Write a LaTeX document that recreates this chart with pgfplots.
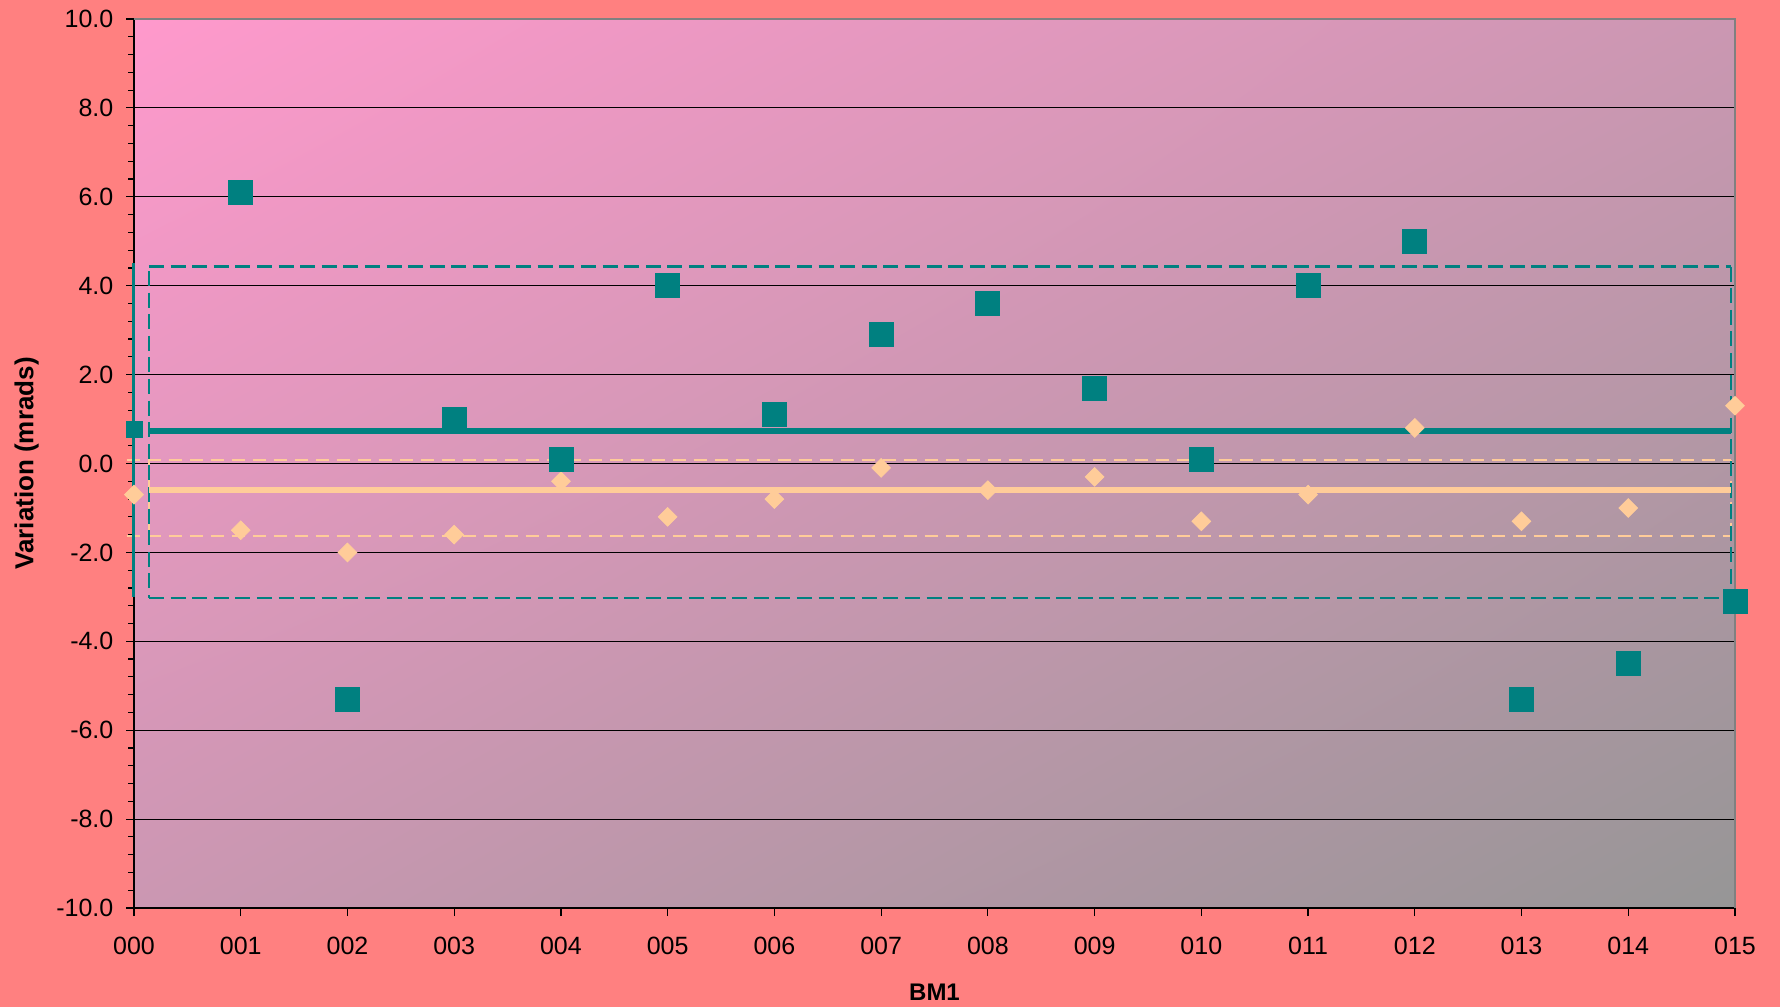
\documentclass[border=0pt]{standalone}
\usepackage{pgfplots}
\pgfplotsset{compat=1.18}
\usetikzlibrary{shadings}
\usepackage{fontspec}
\setmainfont{Liberation Sans}
\definecolor{bgsalmon}{RGB}{255,128,128}
\definecolor{tealc}{RGB}{0,128,128}
\definecolor{orangec}{RGB}{255,204,153}
\definecolor{pinkc}{RGB}{255,153,204}
\definecolor{grayc}{RGB}{150,150,150}
\definecolor{midc}{RGB}{203,151,178}
\definecolor{borderc}{RGB}{128,128,128}
\begin{document}
\begin{tikzpicture}
\useasboundingbox (-67pt,-49.5pt) rectangle (823pt,454pt);
\fill[bgsalmon] (-67pt,-49.5pt) rectangle (823pt,454pt);
\begin{axis}[
  at={(0pt,0pt)}, anchor=south west,
  scale only axis, width=800.5pt, height=444.5pt,
  xmin=0, xmax=15, ymin=-10, ymax=10,
  clip=false,
  axis background/.style={shade, upper left=pinkc, upper right=midc, lower left=midc, lower right=grayc},
  axis x line*=bottom, axis y line*=left,
  axis line style={black, line width=1pt},
  xtick pos=bottom, ytick pos=left,
  tick align=outside, major tick length=4pt, minor tick length=3pt,
  tick style={black, line width=0.6pt},
  ymajorgrids, major grid style={black, line width=0.5pt},
  minor y tick num=4,
  xtick={0,1,...,15},
  xticklabels={000,001,002,003,004,005,006,007,008,009,010,011,012,013,014,015},
  ytick={-10,-8,...,10},
  yticklabels={-10.0,-8.0,-6.0,-4.0,-2.0,0.0,2.0,4.0,6.0,8.0,10.0},
  tick label style={font=\fontsize{12.5}{14}\selectfont},
  xticklabel style={yshift=-6.8pt},
  yticklabel style={xshift=-2.8pt},
  ylabel={Variation (mrads)},
  ylabel style={font=\fontsize{13}{15}\selectfont\bfseries, at={(axis description cs:-0.067,0.5)}, anchor=center},
  xlabel={BM1},
  xlabel style={font=\fontsize{12}{14}\selectfont\bfseries, at={(axis description cs:0.5,-0.0945)}, anchor=center},
]
% border top/right
\draw[borderc, line width=1pt] (rel axis cs:0,1) -- (rel axis cs:1,1) -- (rel axis cs:1,0);
% bands
\addplot[orangec, line width=1pt, dash pattern=on 6.5pt off 4pt] coordinates {(-0.07,0.07) (14.96,0.07)};
\addplot[orangec, line width=1pt, dash pattern=on 6.5pt off 4pt] coordinates {(-0.07,-1.63) (14.96,-1.63)};
\addplot[orangec, line width=1pt, dash pattern=on 6.5pt off 4pt] coordinates {(14.96,0.07) (14.96,-1.63)};
\addplot[orangec, line width=0.6pt] coordinates {(0.14,0.07) (0.14,-1.63)};
\addplot[tealc, line width=1.1pt, dash pattern=on 7.5pt off 3.3pt] coordinates {(0.14,4.43) (14.96,4.43)};
\addplot[tealc, line width=1.1pt, dash pattern=on 7.5pt off 3.3pt] coordinates {(0.14,-3.03) (14.96,-3.03)};
\addplot[tealc, line width=1.1pt, dash pattern=on 7.5pt off 3.3pt] coordinates {(0.14,4.33) (0.14,-3.03)};
\addplot[tealc, line width=1.1pt, dash pattern=on 7.5pt off 3.3pt] coordinates {(14.96,4.43) (14.96,-3.03)};
\addplot[tealc, line width=1.5pt] coordinates {(0,4.5) (0,-3.0)};
% mean lines
\addplot[tealc, line width=3pt] coordinates {(0.14,0.74) (14.96,0.74)};
\addplot[orangec, line width=3pt] coordinates {(0.14,-0.6) (14.96,-0.6)};
% data
\addplot[only marks, mark=square*, mark size=3.3pt, mark options={rotate=45, fill=orangec, draw=orangec}] coordinates {
(0,-0.7) (1,-1.5) (2,-2.0) (3,-1.6) (4,-0.4) (5,-1.2) (6,-0.8) (7,-0.1)
(8,-0.6) (9,-0.3) (10,-1.3) (11,-0.7) (12,0.8) (13,-1.3) (14,-1.0) (15,1.3)};
\addplot[only marks, mark=square*, mark size=4pt, mark options={fill=tealc, draw=tealc}] coordinates {(0,0.76)};
\addplot[only marks, mark=square*, mark size=6pt, mark options={fill=tealc, draw=tealc}] coordinates {
(1,6.1) (2,-5.3) (3,1.0) (4,0.1) (5,4.0) (6,1.1) (7,2.9) (8,3.6)
(9,1.7) (10,0.1) (11,4.0) (12,5.0) (13,-5.3) (14,-4.5) (15,-3.1)};
\end{axis}
\end{tikzpicture}
\end{document}
